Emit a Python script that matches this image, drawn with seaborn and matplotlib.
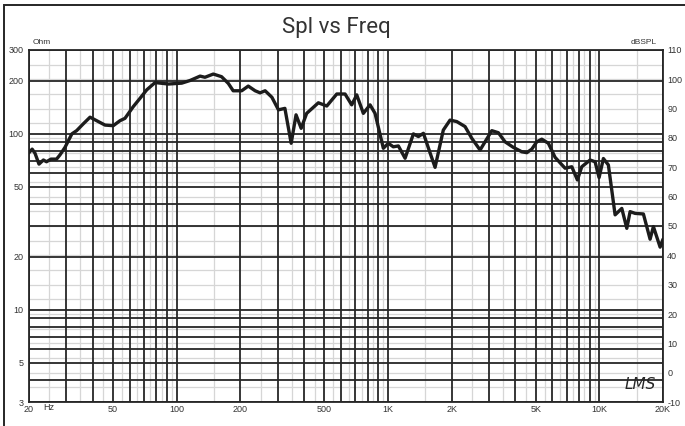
import matplotlib
matplotlib.use("Agg")
import matplotlib.pyplot as plt
from matplotlib.patches import Rectangle
from matplotlib.ticker import FixedLocator, NullFormatter, NullLocator
import pandas as pd
import seaborn as sns

### Data (SPL curve, right axis)
freq_hz = [20, 20.7, 21.35, 22.3, 23.4, 24.2, 25.4, 27.0, 28.0, 29.6,
           31.9, 33.6, 36.1, 38.9, 41.8, 45.8, 50.1, 53.9, 56.9, 62.3,
           67.0, 72.1, 79.0, 91.3, 105.6, 115.6, 129, 136, 149, 163,
           175.5, 185, 203, 218, 235, 248, 262, 282, 303, 325,
           348, 367, 388, 412, 468, 513, 572, 626, 673, 711,
           764, 822, 868, 950, 1003, 1059, 1119, 1204, 1318, 1392,
           1470, 1564, 1669, 1826, 1965, 2114, 2314, 2490, 2726, 3097,
           3327, 3578, 3918, 4295, 4535, 4788, 5055, 5338, 5736, 6172,
           6882, 7404, 7868, 8254, 9038, 9542, 9968, 10446, 11030, 11868,
           12766, 13482, 13976, 14758, 16154, 17377, 18014, 19380, 20000]
spl_db = [75.0, 76.2, 74.8, 71.1, 72.5, 71.9, 72.8, 72.8, 74.2, 76.8,
          81.4, 82.5, 84.8, 87.1, 85.9, 84.4, 84.2, 85.9, 86.7, 90.7,
          93.5, 96.4, 98.9, 98.4, 98.7, 99.6, 101.1, 100.7, 101.8, 100.9,
          98.6, 96.1, 96.1, 97.7, 96.1, 95.4, 96.1, 93.9, 89.6, 90.1,
          78.2, 87.9, 83.3, 88.4, 92.0, 90.9, 95.0, 95.0, 91.3, 94.7,
          88.4, 91.3, 88.4, 76.5, 78.2, 77.0, 77.3, 73.1, 81.4, 80.5,
          81.6, 75.9, 70.0, 82.7, 86.1, 85.6, 83.9, 79.9, 75.9, 82.5,
          81.8, 78.7, 76.8, 75.3, 75.0, 76.2, 78.7, 79.6, 78.2, 73.4,
          69.7, 70.2, 65.7, 70.2, 72.5, 71.9, 66.5, 73.0, 70.8, 53.8,
          56.0, 49.2, 54.9, 54.3, 54.1, 45.5, 49.8, 42.8, 45.5]

# left (Ohm) axis
ohm_lines = [3, 4, 5, 6, 7, 8, 9, 10, 20, 30, 40, 50, 60, 70, 80, 90, 100, 200, 300]
ohm_labels = {3: "3", 5: "5", 10: "10", 20: "20", 50: "50", 100: "100", 200: "200", 300: "300"}

# frequency axis
freq_lines = [20, 30, 40, 50, 60, 70, 80, 90,
              100, 200, 300, 400, 500, 600, 700, 800, 900,
              1000, 2000, 3000, 4000, 5000, 6000, 7000, 8000, 9000,
              10000, 20000]
freq_labels = {20: "20", 50: "50", 100: "100", 200: "200", 500: "500",
               1000: "1K", 2000: "2K", 5000: "5K", 10000: "10K", 20000: "20K"}
freq_light = [25, 35, 45, 55, 65, 75, 85, 95,
              150, 250, 350, 450, 550, 650, 750, 850, 950,
              1500, 2500, 3500, 4500, 5500, 6500, 7500, 8500, 9500, 15000]

# right (dB) axis
db_ticks = list(range(-10, 111, 10))
db_light = list(range(-5, 110, 5))

sns.set_theme(style="white")
plt.rcParams["font.family"] = ["Liberation Sans", "DejaVu Sans"]

dark = "#262626"
light = "#d6d6d6"
txt = "#333333"

fig = plt.figure(figsize=(6.85, 4.26), dpi=100)
ax = fig.add_axes([29 / 685, 1 - 402 / 426, 634 / 685, 352 / 426])

ax.set_xscale("log")
ax.set_yscale("log")
ax.set_xlim(20, 20000)
ax.set_ylim(3, 300)
ax.set_axisbelow(True)

ax.xaxis.set_major_locator(FixedLocator(freq_lines))
ax.set_xticklabels([freq_labels.get(f, "") for f in freq_lines])
ax.xaxis.set_minor_locator(FixedLocator(freq_light))
ax.xaxis.set_minor_formatter(NullFormatter())

ax.yaxis.set_major_locator(FixedLocator(ohm_lines))
ax.set_yticklabels([ohm_labels.get(v, "") for v in ohm_lines])
ax.yaxis.set_minor_locator(NullLocator())

ax.grid(True, which="major", color=dark, linewidth=1.3)
ax.xaxis.grid(True, which="minor", color=light, linewidth=0.9)
# light dB lines sit under the dark grid
ax.hlines([(d + 10) / 120 for d in db_light], 0, 1, transform=ax.transAxes,
          color=light, linewidth=0.9, zorder=0.3)

ax.tick_params(axis="both", which="both", length=0, labelsize=6.5, labelcolor=txt)
ax.tick_params(axis="y", pad=4)
ax.tick_params(axis="x", pad=2.5)
for sp in ax.spines.values():
    sp.set_color(dark)
    sp.set_linewidth(1.3)

ax2 = ax.twinx()
df = pd.DataFrame({"freq": freq_hz, "spl": spl_db})
sns.lineplot(data=df, x="freq", y="spl", ax=ax2, color="#1c1c1c", linewidth=2.4,
             solid_joinstyle="round", solid_capstyle="round")
ax2.set_ylim(-10, 110)
ax2.set_xlim(20, 20000)
ax2.set_yticks(db_ticks)
ax2.set_yticklabels([str(d) for d in db_ticks])
ax2.set_xlabel("")
ax2.set_ylabel("")
ax2.tick_params(axis="y", length=0, labelsize=6.5, labelcolor=txt, pad=3)
for sp in ax2.spines.values():
    sp.set_visible(False)

# axis captions
ax.text(0.005, 1.02, "Ohm", transform=ax.transAxes, fontsize=6, color=txt, ha="left", va="center")
ax.text(0.99, 1.02, "dBSPL", transform=ax.transAxes, fontsize=6, color=txt, ha="right", va="center")
ax.text(0.022, -0.017, "Hz", transform=ax.transAxes, fontsize=6.5, color=txt, ha="left", va="center")
ax.text(0.964, 0.05, "LMS", transform=ax.transAxes, fontsize=11, color=dark,
        ha="center", va="center", style="italic", family="DejaVu Sans")

fig.text(336 / 685, 1 - 27 / 426, "Spl vs Freq", ha="center", va="center",
         fontsize=16, color=txt, family=["Roboto", "DejaVu Sans"])

# outer frame
fig.patches.append(Rectangle((3.5 / 685, -0.05), 1.1, 1.05 - 5.2 / 426,
                             transform=fig.transFigure, fill=False,
                             edgecolor=dark, linewidth=1.4))

fig.savefig("out.png", dpi=100)
